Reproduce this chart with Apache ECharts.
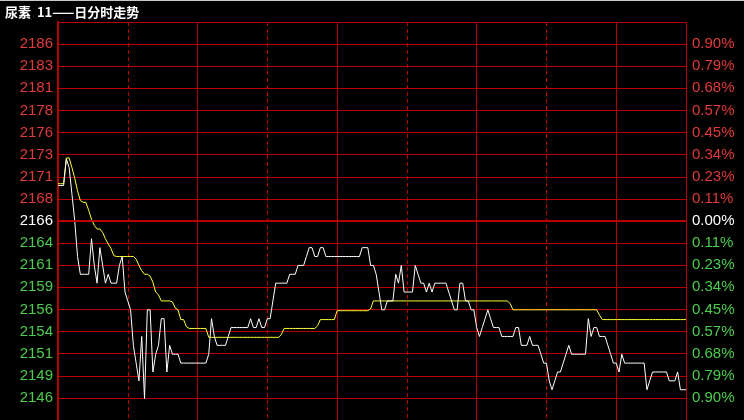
<!DOCTYPE html>
<html>
<head>
<meta charset="utf-8">
<title>尿素 分时走势</title>
<script src="https://cdn.jsdelivr.net/npm/echarts@6/dist/echarts.min.js"></script>
<style>
    html, body { margin: 0; padding: 0; background: #000; }
    #MinuteChart { width: 744px; height: 420px; }
</style>
</head>
<body>
<div id="MinuteChart"></div>
<script>
const titleText = '尿素  11——日分时走势';
const basePrice = 2166;

// 每分钟价格 (共226个点)
const lastPrices = [
    2170, 2170, 2170, 2173, 2172, 2169, 2166, 2162, 2160, 2160,
    2160, 2160, 2164, 2161, 2159, 2163, 2161, 2159, 2160, 2159,
    2159, 2159, 2161, 2162, 2158, 2157, 2156, 2152, 2150, 2148,
    2153, 2146, 2156, 2156, 2149, 2151, 2152, 2155, 2155, 2149,
    2152, 2151, 2151, 2151, 2150, 2150, 2150, 2150, 2150, 2150,
    2150, 2150, 2150, 2150, 2151, 2155, 2153, 2152, 2152, 2152,
    2152, 2153, 2154, 2154, 2154, 2154, 2154, 2154, 2154, 2155,
    2154, 2154, 2155, 2154, 2154, 2155, 2155, 2157, 2159, 2159,
    2159, 2159, 2159, 2160, 2160, 2160, 2161, 2161, 2161, 2162,
    2163, 2163, 2162, 2162, 2163, 2163, 2162, 2162, 2162, 2162,
    2162, 2162, 2162, 2162, 2162, 2162, 2162, 2162, 2162, 2163,
    2163, 2163, 2161, 2161, 2160, 2158, 2156, 2156, 2157, 2157,
    2157, 2160, 2159, 2161, 2158, 2158, 2158, 2158, 2161, 2160,
    2159, 2159, 2158, 2159, 2158, 2159, 2159, 2159, 2159, 2159,
    2158, 2157, 2156, 2156, 2159, 2159, 2157, 2157, 2156, 2156,
    2154, 2153, 2154, 2155, 2156, 2155, 2154, 2154, 2154, 2153,
    2153, 2153, 2153, 2153, 2154, 2154, 2152, 2152, 2152, 2153,
    2152, 2152, 2152, 2151, 2150, 2150, 2148, 2147, 2148, 2149,
    2149, 2150, 2151, 2152, 2151, 2151, 2151, 2151, 2151, 2151,
    2155, 2153, 2154, 2154, 2153, 2153, 2153, 2152, 2151, 2150,
    2150, 2149, 2151, 2150, 2150, 2150, 2150, 2150, 2150, 2150,
    2150, 2147, 2148, 2149, 2149, 2149, 2149, 2149, 2149, 2148,
    2148, 2148, 2149, 2147, 2147, 2147
];

// 均价线
const avgPrices = [
    2170.2, 2170.2, 2170.2, 2173.1, 2173.1, 2172.0, 2170.8, 2169.4, 2168.3, 2168.1,
    2168.1, 2167.2, 2166.2, 2165.5, 2165.1, 2165.1, 2164.7, 2164.0, 2163.4, 2162.9,
    2162.1, 2162.0, 2162.0, 2162.0, 2162.0, 2162.0, 2162.0, 2162.0, 2161.7, 2161.0,
    2160.4, 2160.0, 2160.0, 2159.8, 2159.1, 2158.0, 2157.7, 2157.0, 2157.0, 2157.0,
    2157.0, 2156.9, 2156.2, 2156.0, 2154.9, 2154.9, 2154.1, 2153.9, 2153.9, 2153.9,
    2153.9, 2153.9, 2153.9, 2153.9, 2152.9, 2152.9, 2152.9, 2152.9, 2152.9, 2152.9,
    2152.9, 2152.9, 2152.9, 2152.9, 2152.9, 2152.9, 2152.9, 2152.9, 2152.9, 2152.9,
    2152.9, 2152.9, 2152.9, 2152.9, 2152.9, 2152.9, 2152.9, 2152.9, 2152.9, 2152.9,
    2153.2, 2153.9, 2153.9, 2153.9, 2153.9, 2153.9, 2153.9, 2153.9, 2153.9, 2153.9,
    2153.9, 2153.9, 2153.9, 2154.2, 2154.9, 2154.9, 2154.9, 2154.9, 2154.9, 2154.9,
    2155.9, 2155.9, 2155.9, 2155.9, 2155.9, 2155.9, 2155.9, 2155.9, 2155.9, 2155.9,
    2155.9, 2155.9, 2156.1, 2157.0, 2157.0, 2157.0, 2157.0, 2157.0, 2157.0, 2157.0,
    2157.0, 2157.0, 2157.0, 2157.0, 2157.0, 2157.0, 2157.0, 2157.0, 2157.0, 2157.0,
    2157.0, 2157.0, 2157.0, 2157.0, 2157.0, 2157.0, 2157.0, 2157.0, 2157.0, 2157.0,
    2157.0, 2157.0, 2157.0, 2157.0, 2157.0, 2157.0, 2157.0, 2157.0, 2157.0, 2157.0,
    2157.0, 2157.0, 2157.0, 2157.0, 2157.0, 2157.0, 2157.0, 2157.0, 2157.0, 2157.0,
    2157.0, 2157.0, 2156.7, 2156.0, 2156.0, 2156.0, 2156.0, 2156.0, 2156.0, 2156.0,
    2156.0, 2156.0, 2156.0, 2156.0, 2156.0, 2156.0, 2156.0, 2156.0, 2156.0, 2156.0,
    2156.0, 2156.0, 2156.0, 2156.0, 2156.0, 2156.0, 2156.0, 2156.0, 2156.0, 2156.0,
    2156.0, 2156.0, 2156.0, 2156.0, 2155.4, 2154.9, 2154.9, 2154.9, 2154.9, 2154.9,
    2154.9, 2154.9, 2154.9, 2154.9, 2154.9, 2154.9, 2154.9, 2154.9, 2154.9, 2154.9,
    2154.9, 2154.9, 2154.9, 2154.9, 2154.9, 2154.9, 2154.9, 2154.9, 2154.9, 2154.9,
    2154.9, 2154.9, 2154.9, 2154.9, 2154.9, 2154.9
];

// 纵轴刻度 (从上到下)
const priceTicks = ['2186', '2183', '2181', '2178', '2176', '2173', '2171', '2168', '2166',
    '2164', '2161', '2159', '2156', '2154', '2151', '2149', '2146'];
const percentTicks = ['0.90%', '0.79%', '0.68%', '0.57%', '0.45%', '0.34%', '0.23%', '0.11%', '0.00%',
    '0.11%', '0.23%', '0.34%', '0.45%', '0.57%', '0.68%', '0.79%', '0.90%'];

const gridColor = '#b80000';
const upColor = '#e03a3a';
const downColor = '#4ccc4c';

// 每格 = 基准价的 1/870, 使 2166 正好落在刻度上
const step = basePrice / 870;
const yMin = step * 861;
const yMax = step * 879;
const lastIndex = lastPrices.length - 1;

function tickIndex(value) {
    // 从上往下数的序号, 最上和最下两条边线不标注
    return 17 - Math.round((parseFloat(value) - yMin) / step);
}
function tickColor(value) {
    const j = tickIndex(value);
    if (j < 8) return upColor;
    if (j === 8) return '#ffffff';
    return downColor;
}

const option = {
    backgroundColor: '#000000',
    animation: false,
    title: {
        text: titleText,
        left: 0,
        top: 1,
        textStyle: {
            color: '#ffffff',
            fontSize: 13,
            fontWeight: 'bold',
            fontFamily: 'Noto Sans CJK SC'
        }
    },
    graphic: [
        {
            type: 'line',
            shape: { x1: 0, y1: 0.5, x2: 744, y2: 0.5 },
            style: { stroke: '#c8c8c8', lineWidth: 1 }
        }
    ],
    grid: {
        left: 58,
        right: 58,
        top: 22,
        height: 403.6
    },
    xAxis: [
        {
            type: 'value',
            min: 0,
            max: lastIndex,
            interval: 25,
            axisLine: { show: false },
            axisTick: { show: false },
            axisLabel: { show: false },
            splitLine: { show: true, lineStyle: { color: gridColor, width: 1, type: [4, 3] } }
        },
        {
            type: 'value',
            min: 0,
            max: lastIndex,
            interval: 50,
            z: 1,
            axisLine: { show: false },
            axisTick: { show: false },
            axisLabel: { show: false },
            splitLine: { show: true, lineStyle: { color: gridColor, width: 1, type: 'solid' } }
        }
    ],
    yAxis: [
        {
            type: 'value',
            position: 'left',
            min: yMin,
            max: yMax,
            interval: step,
            axisLine: { show: true, lineStyle: { color: gridColor, width: 2 } },
            axisTick: { show: false },
            axisLabel: {
                margin: 5,
                fontSize: 15,
                fontFamily: 'Liberation Sans',
                color: tickColor,
                formatter: function (value) {
                    const j = tickIndex(value);
                    return priceTicks[j] || '';
                }
            },
            splitLine: { show: true, lineStyle: { color: gridColor, width: 1, opacity: 1 } }
        },
        {
            type: 'value',
            position: 'right',
            min: yMin,
            max: yMax,
            interval: step,
            axisLine: { show: false },
            axisTick: { show: false },
            axisLabel: {
                margin: 6,
                fontSize: 15,
                fontFamily: 'Liberation Sans',
                color: tickColor,
                formatter: function (value) {
                    const j = tickIndex(value);
                    return percentTicks[j] || '';
                }
            },
            splitLine: { show: false }
        }
    ],
    series: [
        {
            name: '均价',
            type: 'line',
            xAxisIndex: 0,
            yAxisIndex: 0,
            symbol: 'none',
            lineStyle: { color: '#ffff33', width: 1 },
            data: avgPrices.map((v, i) => [i, v]),
            markLine: {
                silent: true,
                symbol: ['none', 'none'],
                label: { show: false },
                lineStyle: { color: gridColor, width: 2, type: 'solid' },
                data: [{ yAxis: basePrice }]
            }
        },
        {
            name: '价格',
            type: 'line',
            xAxisIndex: 0,
            yAxisIndex: 0,
            symbol: 'none',
            lineStyle: { color: '#ffffff', width: 1 },
            data: lastPrices.map((v, i) => [i, v])
        }
    ]
};

let myChart = echarts.init(document.getElementById('MinuteChart'));
myChart.setOption(option);

window.onresize = function () {
    myChart.resize()
}
</script>
</body>
</html>
